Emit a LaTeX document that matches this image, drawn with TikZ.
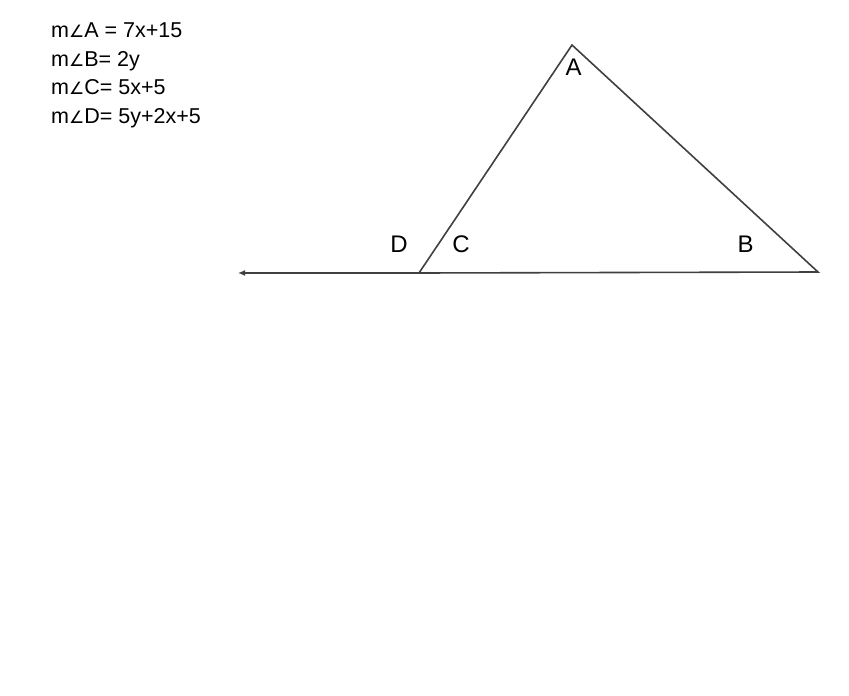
\documentclass[tikz,border=0pt]{standalone}
\usepackage{fontspec}
\setmainfont{Liberation Sans}
\newfontfamily\dvfont{DejaVu Sans}
\usetikzlibrary{arrows.meta}
\newcommand{\angsym}{{\dvfont\fontsize{17}{20}\selectfont ∠}}
\tikzset{
  eqtext/.style={anchor=base west, inner sep=0pt, font=\fontsize{21.5}{25}\selectfont},
  vlabel/.style={anchor=base, inner sep=0pt, font=\fontsize{24}{28}\selectfont},
  edge/.style={draw=black!75, line width=1.6pt}
}
\begin{document}
\begin{tikzpicture}[x=1pt,y=-1pt]
\useasboundingbox (0,0) rectangle (849,696);
\fill[white] (0,0) rectangle (849,696);
\node[eqtext] (e1) at (51,37.5) {m\angsym A = 7x+15};
\node[eqtext] (e2) at (51,66) {m\angsym B= 2y};
\node[eqtext] (e3) at (51,94.5) {m\angsym C= 5x+5};
\node[eqtext] (e4) at (51,123) {m\angsym D= 5y+2x+5};
\coordinate (A) at (572,45);
\coordinate (C) at (419,273);
\coordinate (B) at (818,272);
\coordinate (E) at (238,273);
\draw[edge, line join=miter] (C) -- (A) -- (B) -- (C);
\draw[edge, -{Latex[length=7pt,width=6pt]}] (C) -- (E);
\node[vlabel] (la) at (573.5,75) {A};
\node[vlabel] (lb) at (745.5,252) {B};
\node[vlabel] (lc) at (461,252) {C};
\node[vlabel] (ld) at (399,252) {D};
\end{tikzpicture}
\end{document}
